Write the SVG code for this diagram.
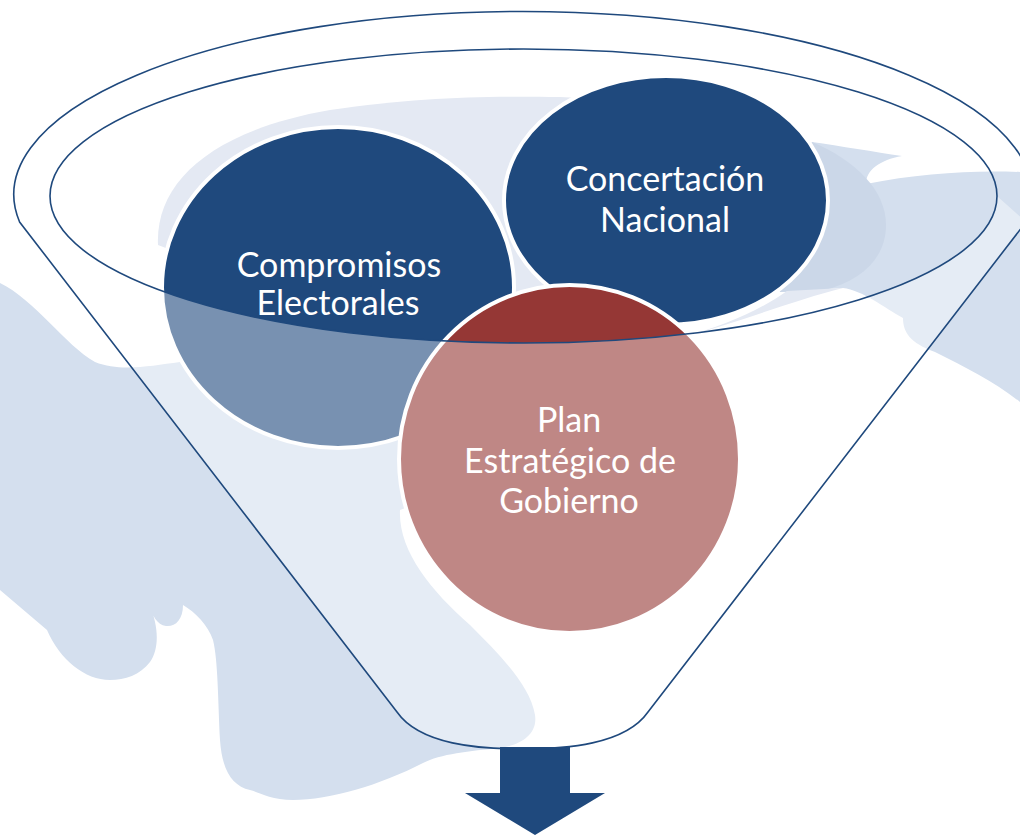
<svg xmlns="http://www.w3.org/2000/svg" width="1020" height="835" viewBox="0 0 1020 835">
  <style>
    .blob { fill: #D4DFEE; }
    .light { fill: #E4E9F3; }
    .shadow { fill: #CBD7E8; }
    .node-blue { fill: #1F497D; stroke: #FFFFFF; stroke-width: 4; }
    .node-red { fill: #953735; stroke: #FFFFFF; stroke-width: 4; }
    .veil { fill: #FFFFFF; fill-opacity: 0.4; }
    .funnel-line { fill: none; stroke: #1F497D; stroke-width: 1.6; }
    .label { font-family: Lato, 'Open Sans', 'Liberation Sans', sans-serif; font-size: 34px; fill: #FFFFFF; text-anchor: middle; }
    .arrow { fill: #1F497D; }
  </style>
  <rect x="0" y="0" width="1020" height="835" fill="#FFFFFF"/>

  <!-- background decorative shapes -->
  <g id="background">
    <path class="blob" d="M 0,283 C 35,300 65,345 95,362 C 120,372 150,366 180,362 L 260,330 L 420,300 L 520,290 L 560,300 L 560,450 L 400,510 C 398,550 430,590 470,625 C 500,655 530,685 535,715 C 538,735 520,745 500,748 C 470,751 440,754 423,763 C 380,785 330,800 293,800 C 270,800 258,792 250,790 C 232,786 222,770 220,740 C 218,700 218,660 213,640 C 208,625 195,612 183,605 C 183,620 175,627 166,626 C 157,625 152,615 150,606 C 158,625 160,648 150,662 C 140,675 125,680 110,680 C 85,680 60,660 47,630 L 0,590 Z"/>
    <path class="light" d="M 158,245 C 155,180 215,130 330,110 C 420,97 480,96 560,97 L 620,100 L 620,300 L 300,300 Z"/>
    <path class="blob" d="M 812,142 C 840,146 875,152 902,156 C 880,160 866,170 866,184 C 920,173 975,170 1020,172 L 1020,402 C 995,382 965,367 935,352 C 910,343 903,332 903,318 C 885,308 862,290 843,288 L 780,292 L 760,200 Z"/>
    <path class="shadow" d="M 812,142 C 855,160 886,190 886,225 C 886,258 862,280 825,290 L 780,292 L 760,200 Z"/>
    <path class="light" d="M 680,338 C 740,322 795,300 843,288 L 787,291 C 760,310 725,326 680,338 Z"/>
  </g>

  <!-- nodes -->
  <g id="node-concertacion">
    <ellipse class="node-blue" cx="666" cy="200.5" rx="162" ry="124.5"/>
  </g>
  <g id="node-compromisos">
    <ellipse class="node-blue" cx="338" cy="287.5" rx="176" ry="160.5"/>
  </g>
  <g id="node-plan">
    <ellipse class="node-red" cx="569.5" cy="459" rx="170.5" ry="174"/>
  </g>

  <!-- funnel body veil (lighter lower part) -->
  <path id="funnel-veil" class="veil" d="M 50,196 A 473.5 147 0 0 0 997,196 L 1026,222 L 648,712 C 625,745 565,749 522,749 C 480,749 420,745 397,712 L 19.6,222 Z"/>

  <!-- arrow -->
  <g id="node-arrow">
    <polygon class="arrow" points="500,747 570,747 570,793 605,793 535,835 465,793 500,793"/>
  </g>

  <!-- funnel outline -->
  <g id="connectors">
    <path class="funnel-line" d="M 19.6,222 A 509 183 0 1 1 1026,222 L 648,712 C 625,745 565,749 522,749 C 480,749 420,745 397,712 Z"/>
    <ellipse class="funnel-line" cx="523.5" cy="196" rx="473.5" ry="147"/>
  </g>

  <!-- labels -->
  <g id="labels">
    <text class="label" x="339" y="277">Compromisos</text>
    <text class="label" x="338" y="315">Electorales</text>
    <text class="label" x="665" y="191">Concertación</text>
    <text class="label" x="665" y="232">Nacional</text>
    <text class="label" x="569" y="432">Plan</text>
    <text class="label" x="570" y="473">Estratégico de</text>
    <text class="label" x="569" y="513">Gobierno</text>
  </g>
</svg>
